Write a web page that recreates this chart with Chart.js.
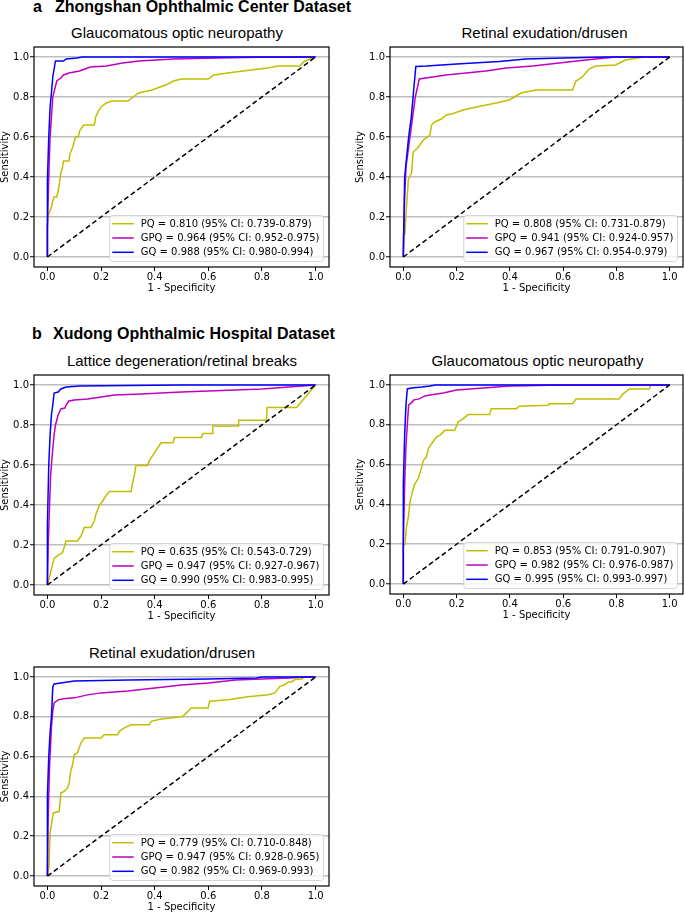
<!DOCTYPE html>
<html><head><meta charset="utf-8">
<script src="https://cdn.jsdelivr.net/npm/chart.js@4.4.1/dist/chart.umd.min.js"></script>
<style>
html,body{margin:0;padding:0;background:#fff;}
body{width:685px;height:914px;position:relative;overflow:hidden;}
canvas{position:absolute;}
.hd{position:absolute;font:bold 16px "Liberation Sans",Arial,sans-serif;line-height:16px;color:#000;white-space:nowrap;}
.tt{position:absolute;font:15px "Liberation Sans",Arial,sans-serif;line-height:15px;color:#000;white-space:nowrap;transform:translateX(-50%);}
</style></head><body>
<div class="hd" style="left:33px;top:-1px;">a</div>
<div class="hd" style="left:55px;top:-1px;">Zhongshan Ophthalmic Center Dataset</div>
<div class="hd" style="left:32px;top:326px;">b</div>
<div class="hd" style="left:53px;top:326px;">Xudong Ophthalmic Hospital Dataset</div>
<script>
const tickVals = [0, 0.2, 0.4, 0.6, 0.8, 1.0];
const seriesNames = ['PQ', 'GPQ', 'GQ'];
const seriesColors = ['#bfbf00', '#bf00bf', '#0000ff'];
const chanceLine = [[0, 0], [1, 1]];
const panelTitles = ['Glaucomatous optic neuropathy', 'Retinal exudation/drusen', 'Lattice degeneration/retinal breaks', 'Glaucomatous optic neuropathy', 'Retinal exudation/drusen'];

// a: Zhongshan - glaucomatous optic neuropathy
const zocGonPQ = [[0,0],[0,0.15],[0.005,0.22],[0.01,0.23],[0.015,0.25],[0.02,0.28],[0.025,0.30],[0.035,0.30],[0.04,0.33],[0.045,0.37],[0.05,0.42],[0.055,0.44],[0.06,0.48],[0.08,0.48],[0.085,0.52],[0.095,0.55],[0.1,0.58],[0.105,0.60],[0.115,0.60],[0.12,0.63],[0.135,0.66],[0.175,0.66],[0.18,0.70],[0.19,0.73],[0.2,0.75],[0.22,0.77],[0.24,0.78],[0.3,0.78],[0.32,0.80],[0.34,0.82],[0.39,0.835],[0.42,0.85],[0.45,0.865],[0.47,0.88],[0.5,0.89],[0.6,0.89],[0.62,0.91],[0.7,0.925],[0.82,0.945],[0.86,0.955],[0.94,0.955],[0.96,0.98],[1,1]];
const zocGonGPQ = [[0,0],[0,0.15],[0.005,0.4],[0.01,0.6],[0.02,0.8],[0.035,0.88],[0.05,0.895],[0.06,0.91],[0.08,0.92],[0.1,0.925],[0.12,0.93],[0.14,0.94],[0.16,0.95],[0.22,0.955],[0.28,0.97],[0.34,0.98],[0.47,0.99],[0.63,0.995],[0.84,1.0],[1,1]];
const zocGonGQ = [[0,0],[0,0.38],[0.005,0.6],[0.01,0.75],[0.015,0.82],[0.02,0.9],[0.03,0.98],[0.06,0.98],[0.07,0.99],[0.11,0.995],[0.13,1.0],[1,1]];
const zocGonLabels = ['PQ = 0.810 (95% CI: 0.739-0.879)', 'GPQ = 0.964 (95% CI: 0.952-0.975)', 'GQ = 0.988 (95% CI: 0.980-0.994)'];

// a: Zhongshan - retinal exudation/drusen
const zocRedPQ = [[0,0],[0,0.115],[0.006,0.115],[0.01,0.21],[0.019,0.39],[0.031,0.42],[0.037,0.525],[0.05,0.54],[0.062,0.56],[0.075,0.585],[0.1,0.61],[0.106,0.66],[0.118,0.675],[0.143,0.69],[0.162,0.71],[0.193,0.72],[0.224,0.735],[0.274,0.75],[0.349,0.77],[0.398,0.785],[0.442,0.82],[0.498,0.835],[0.635,0.835],[0.648,0.88],[0.672,0.90],[0.697,0.94],[0.722,0.955],[0.797,0.96],[0.834,0.985],[0.903,1.0],[1,1]];
const zocRedGPQ = [[0,0],[0.005,0.3],[0.01,0.45],[0.02,0.55],[0.03,0.65],[0.045,0.8],[0.055,0.86],[0.06,0.89],[0.11,0.9],[0.16,0.91],[0.31,0.93],[0.386,0.945],[0.486,0.955],[0.585,0.97],[0.685,0.985],[0.797,1.0],[1,1]];
const zocRedGQ = [[0,0],[0.005,0.4],[0.02,0.6],[0.03,0.7],[0.04,0.85],[0.047,0.953],[0.087,0.955],[0.2,0.965],[0.36,0.978],[0.46,0.99],[0.6,0.995],[0.76,1.0],[1,1]];
const zocRedLabels = ['PQ = 0.808 (95% CI: 0.731-0.879)', 'GPQ = 0.941 (95% CI: 0.924-0.957)', 'GQ = 0.967 (95% CI: 0.954-0.979)'];

// b: Xudong - lattice degeneration/retinal breaks
const xohLatPQ = [[0,0],[0.025,0.133],[0.044,0.153],[0.056,0.16],[0.062,0.186],[0.069,0.22],[0.112,0.22],[0.125,0.245],[0.131,0.262],[0.137,0.287],[0.162,0.287],[0.175,0.32],[0.181,0.354],[0.193,0.396],[0.206,0.42],[0.218,0.446],[0.231,0.468],[0.312,0.468],[0.318,0.513],[0.324,0.547],[0.33,0.597],[0.374,0.597],[0.38,0.622],[0.393,0.648],[0.405,0.673],[0.424,0.711],[0.468,0.711],[0.474,0.737],[0.574,0.737],[0.58,0.757],[0.617,0.757],[0.617,0.795],[0.711,0.795],[0.713,0.824],[0.817,0.824],[0.819,0.888],[0.929,0.888],[1,1]];
const xohLatGPQ = [[0,0],[0.003,0.2],[0.008,0.4],[0.012,0.55],[0.018,0.65],[0.025,0.75],[0.03,0.8],[0.04,0.85],[0.05,0.88],[0.065,0.885],[0.07,0.9],[0.08,0.92],[0.1,0.925],[0.15,0.93],[0.2,0.94],[0.25,0.95],[0.35,0.955],[0.5,0.965],[0.6,0.97],[0.8,0.98],[0.9,0.99],[1,1]];
const xohLatGQ = [[0,0],[0,0.3],[0.005,0.6],[0.01,0.75],[0.015,0.85],[0.02,0.9],[0.025,0.96],[0.04,0.965],[0.05,0.98],[0.07,0.99],[0.12,0.995],[0.3,0.997],[0.5,1.0],[1,1]];
const xohLatLabels = ['PQ = 0.635 (95% CI: 0.543-0.729)', 'GPQ = 0.947 (95% CI: 0.927-0.967)', 'GQ = 0.990 (95% CI: 0.983-0.995)'];

// b: Xudong - glaucomatous optic neuropathy
const xohGonPQ = [[0,0],[0,0.19],[0.006,0.2],[0.012,0.286],[0.019,0.337],[0.025,0.41],[0.031,0.445],[0.037,0.48],[0.044,0.504],[0.056,0.53],[0.062,0.555],[0.069,0.588],[0.075,0.62],[0.087,0.638],[0.094,0.68],[0.106,0.705],[0.125,0.74],[0.137,0.747],[0.156,0.772],[0.193,0.772],[0.206,0.814],[0.224,0.83],[0.243,0.851],[0.324,0.851],[0.33,0.881],[0.424,0.881],[0.436,0.893],[0.542,0.898],[0.549,0.906],[0.636,0.906],[0.648,0.93],[0.81,0.93],[0.823,0.953],[0.848,0.98],[0.923,0.98],[0.929,1.0],[1,1]];
const xohGonGPQ = [[0,0],[0,0.2],[0.005,0.5],[0.01,0.7],[0.015,0.8],[0.02,0.9],[0.03,0.91],[0.04,0.925],[0.06,0.93],[0.08,0.945],[0.1,0.95],[0.15,0.96],[0.2,0.975],[0.3,0.985],[0.4,0.995],[0.6,1.0],[1,1]];
const xohGonGQ = [[0,0],[0,0.5],[0.005,0.75],[0.01,0.9],[0.015,0.98],[0.03,0.985],[0.07,0.99],[0.1,0.995],[0.12,1.0],[1,1]];
const xohGonLabels = ['PQ = 0.853 (95% CI: 0.791-0.907)', 'GPQ = 0.982 (95% CI: 0.976-0.987)', 'GQ = 0.995 (95% CI: 0.993-0.997)'];

// b: Xudong - retinal exudation/drusen
const xohRedPQ = [[0,0],[0.006,0.05],[0.01,0.216],[0.015,0.258],[0.022,0.317],[0.044,0.325],[0.05,0.417],[0.062,0.425],[0.075,0.442],[0.081,0.467],[0.087,0.526],[0.094,0.56],[0.1,0.61],[0.112,0.618],[0.118,0.643],[0.125,0.668],[0.137,0.693],[0.2,0.693],[0.212,0.71],[0.262,0.71],[0.268,0.727],[0.287,0.744],[0.312,0.76],[0.38,0.76],[0.387,0.777],[0.424,0.789],[0.461,0.794],[0.505,0.802],[0.524,0.827],[0.536,0.844],[0.599,0.844],[0.605,0.878],[0.673,0.886],[0.748,0.9],[0.823,0.911],[0.848,0.92],[0.867,0.953],[0.885,0.961],[0.898,0.975],[0.91,0.975],[0.923,0.987],[0.948,0.99],[0.96,1.0],[1,1]];
const xohRedGPQ = [[0,0],[0.003,0.3],[0.008,0.55],[0.015,0.75],[0.02,0.83],[0.025,0.87],[0.04,0.885],[0.06,0.89],[0.1,0.895],[0.15,0.91],[0.2,0.92],[0.3,0.93],[0.4,0.945],[0.5,0.96],[0.6,0.97],[0.7,0.985],[0.8,0.99],[0.9,0.995],[0.96,1.0],[1,1]];
const xohRedGQ = [[0,0],[0,0.4],[0.005,0.6],[0.01,0.72],[0.015,0.8],[0.02,0.95],[0.025,0.965],[0.05,0.97],[0.1,0.98],[0.3,0.985],[0.6,0.99],[0.78,0.995],[0.8,1.0],[1,1]];
const xohRedLabels = ['PQ = 0.779 (95% CI: 0.710-0.848)', 'GPQ = 0.947 (95% CI: 0.928-0.965)', 'GQ = 0.982 (95% CI: 0.969-0.993)'];

// layout of the five panels (page pixels)
const panels = [
  {left: 0,   top: 42,  w: 340, L: 34, R: 329, H: 220, titleX: 177,   title: panelTitles[0], series: [zocGonPQ, zocGonGPQ, zocGonGQ], labels: zocGonLabels},
  {left: 355, top: 42,  w: 330, L: 35, R: 328, H: 220, titleX: 544.5, title: panelTitles[1], series: [zocRedPQ, zocRedGPQ, zocRedGQ], labels: zocRedLabels},
  {left: 0,   top: 370, w: 340, L: 34, R: 329, H: 220, titleX: 182,   title: panelTitles[2], series: [xohLatPQ, xohLatGPQ, xohLatGQ], labels: xohLatLabels},
  {left: 355, top: 370, w: 330, L: 35, R: 328, H: 219, titleX: 537.5, title: panelTitles[3], series: [xohGonPQ, xohGonGPQ, xohGonGQ], labels: xohGonLabels},
  {left: 0,   top: 662, w: 340, L: 34, R: 329, H: 219, titleX: 172,   title: panelTitles[4], series: [xohRedPQ, xohRedGPQ, xohRedGQ], labels: xohRedLabels}
];

const PAD_TOP = 5, XAXIS_H = 30;
const toXY = arr => arr.map(p => ({x: p[0], y: p[1]}));

const framePlugin = {
  id: 'frameAndLegend',
  afterDraw(chart) {
    const ctx = chart.ctx, ca = chart.chartArea;
    ctx.save();
    ctx.strokeStyle = '#000';
    ctx.lineWidth = 1.2;
    ctx.strokeRect(ca.left, ca.top, ca.right - ca.left, ca.bottom - ca.top);
    // legend (lower right, matplotlib style)
    const items = chart.data.datasets.filter(d => d.inLegend);
    ctx.font = '10px "DejaVu Sans"';
    let maxW = 0;
    items.forEach(d => { maxW = Math.max(maxW, ctx.measureText(d.label).width); });
    const bw = maxW + 35, bh = 46;
    const x0 = ca.right - 5.5 - bw, y0 = ca.bottom - 5.5 - bh;
    ctx.beginPath();
    if (ctx.roundRect) ctx.roundRect(x0, y0, bw, bh, 3); else ctx.rect(x0, y0, bw, bh);
    ctx.fillStyle = 'rgba(255,255,255,0.8)';
    ctx.fill();
    ctx.strokeStyle = '#d4d4d4';
    ctx.lineWidth = 1;
    ctx.stroke();
    items.forEach((d, i) => {
      const cy = y0 + 8.2 + i * 14.3;
      ctx.beginPath();
      ctx.moveTo(x0 + 2.5, cy);
      ctx.lineTo(x0 + 24, cy);
      ctx.strokeStyle = d.borderColor;
      ctx.lineWidth = 1.5;
      ctx.stroke();
      ctx.fillStyle = '#000';
      ctx.textBaseline = 'middle';
      ctx.textAlign = 'left';
      ctx.fillText(d.label, x0 + 31, cy + 0.5);
    });
    ctx.restore();
  }
};

panels.forEach(cfg => {
  const cv = document.createElement('canvas');
  const ch = PAD_TOP + cfg.H + XAXIS_H;
  cv.width = cfg.w; cv.height = ch;
  cv.style.left = cfg.left + 'px'; cv.style.top = cfg.top + 'px';
  cv.style.width = cfg.w + 'px'; cv.style.height = ch + 'px';
  document.body.appendChild(cv);

  const t = document.createElement('div');
  t.className = 'tt';
  t.textContent = cfg.title;
  t.style.left = cfg.titleX + 'px';
  t.style.top = (cfg.top + PAD_TOP - 22.2) + 'px';
  document.body.appendChild(t);

  const datasets = cfg.series.map((s, i) => ({
    label: cfg.labels[i], inLegend: true, data: toXY(s), showLine: true,
    borderColor: seriesColors[i], backgroundColor: seriesColors[i],
    borderWidth: 1.5, pointRadius: 0, pointHoverRadius: 0, tension: 0, order: 3 - i
  }));
  datasets.push({
    label: 'chance', inLegend: false, data: toXY(chanceLine), showLine: true,
    borderColor: '#000', backgroundColor: '#000', borderDash: [5, 3],
    borderWidth: 1.5, pointRadius: 0, pointHoverRadius: 0, tension: 0, order: 0
  });

  const tickFont = {family: '"DejaVu Sans"', size: 10};
  new Chart(cv, {
    type: 'scatter',
    data: {datasets},
    options: {
      responsive: false, animation: false, events: [], devicePixelRatio: 1,
      layout: {padding: {top: PAD_TOP, right: cfg.w - cfg.R, left: 0, bottom: 0}},
      plugins: {legend: {display: false}, tooltip: {enabled: false}, title: {display: false}},
      scales: {
        x: {
          type: 'linear', position: 'bottom', min: -0.05, max: 1.05,
          afterBuildTicks(s) { s.ticks = tickVals.map(v => ({value: v})); },
          afterFit(s) { s.height = XAXIS_H; s.paddingLeft = 0; s.paddingRight = 0; },
          grid: {drawOnChartArea: false, drawTicks: true, tickLength: 4, tickColor: '#000', tickWidth: 1},
          border: {display: false},
          ticks: {padding: 0, color: '#000', font: tickFont, autoSkip: false, maxRotation: 0, callback: v => v.toFixed(1)},
          title: {display: true, text: '1 - Specificity', color: '#000', font: {family: '"DejaVu Sans"', size: 10, lineHeight: 1.2}, padding: {top: 0, bottom: 2.5}}
        },
        y: {
          type: 'linear', position: 'left', min: -0.05, max: 1.05,
          afterBuildTicks(s) { s.ticks = tickVals.map(v => ({value: v})); },
          afterFit(s) { s.width = cfg.L; s.paddingTop = 0; s.paddingBottom = 0; },
          grid: {color: '#bdbdbd', lineWidth: 1.5, drawTicks: true, tickLength: 4, tickColor: '#000', tickWidth: 1},
          border: {display: false},
          ticks: {padding: 1, color: '#000', font: tickFont, autoSkip: false, callback: v => v.toFixed(1)},
          title: {display: true, text: 'Sensitivity', color: '#000', font: {family: '"DejaVu Sans"', size: 10, lineHeight: 1.0}, padding: {top: 0, bottom: 0}}
        }
      }
    },
    plugins: [framePlugin]
  });
});
</script>
</body></html>
